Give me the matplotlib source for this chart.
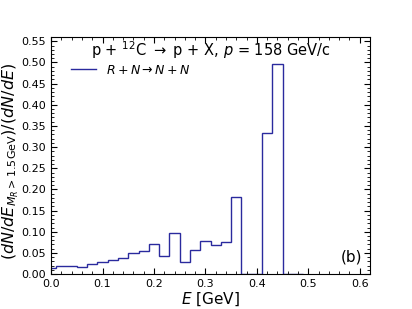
import matplotlib
matplotlib.use("Agg")
import matplotlib.pyplot as plt
from matplotlib.ticker import MultipleLocator

edges = [-0.01, 0.01, 0.03, 0.05, 0.07, 0.09, 0.11, 0.13, 0.15, 0.17, 0.19,
         0.21, 0.23, 0.25, 0.27, 0.29, 0.31, 0.33, 0.35, 0.37, 0.39, 0.41,
         0.43, 0.45, 0.47, 0.49]
ratio = [0.014, 0.018, 0.018, 0.016, 0.024, 0.028, 0.034, 0.038, 0.049, 0.054,
         0.071, 0.042, 0.098, 0.028, 0.057, 0.079, 0.068, 0.075, 0.181, 0.0,
         0.0, 0.333, 0.497, 0.0, 0.0]
label = r"$R+N \rightarrow N+N$"
title = r"p + $^{12}$C $\rightarrow$ p + X, $p$ = 158 GeV/c"

fig = plt.figure(figsize=(4.12, 3.09), dpi=100)
ax = fig.add_axes([0.124, 0.113, 0.774, 0.767])
color = "#2a2a9e"
ax.stairs(ratio, edges, color=color, lw=1.0, label=label)

ax.set_xlim(0, 0.62)
ax.set_ylim(0, 0.56)
ax.xaxis.set_major_locator(MultipleLocator(0.1))
ax.xaxis.set_minor_locator(MultipleLocator(0.02))
ax.yaxis.set_major_locator(MultipleLocator(0.05))
ax.yaxis.set_minor_locator(MultipleLocator(0.01))
ax.tick_params(which="both", direction="in", top=True, right=True, labelsize=8)
ax.tick_params(which="major", length=4)
ax.tick_params(which="minor", length=2)
ax.set_xticklabels([f"{v:.1f}" for v in ax.get_xticks()])
ax.set_yticklabels([f"{v:.2f}" for v in ax.get_yticks()])

ax.set_xlabel(r"$E$ [GeV]", fontsize=11, labelpad=1)
ax.set_ylabel(r"$(dN/dE_{M_R > 1.5\mathrm{GeV}})/(dN/dE)$", fontsize=11.5)
ax.yaxis.set_label_coords(-0.127, 0.477)
ax.yaxis.label.set_va("center")

ax.text(0.5, 0.945, title, transform=ax.transAxes, ha="center", va="center", fontsize=10.5)
ax.text(0.975, 0.04, "(b)", transform=ax.transAxes, ha="right", va="bottom", fontsize=11)
ax.legend(loc="upper left", bbox_to_anchor=(0.035, 0.925), frameon=False, fontsize=9,
          handlelength=2.0, borderaxespad=0.3)

fig.savefig("out.png", dpi=100)
